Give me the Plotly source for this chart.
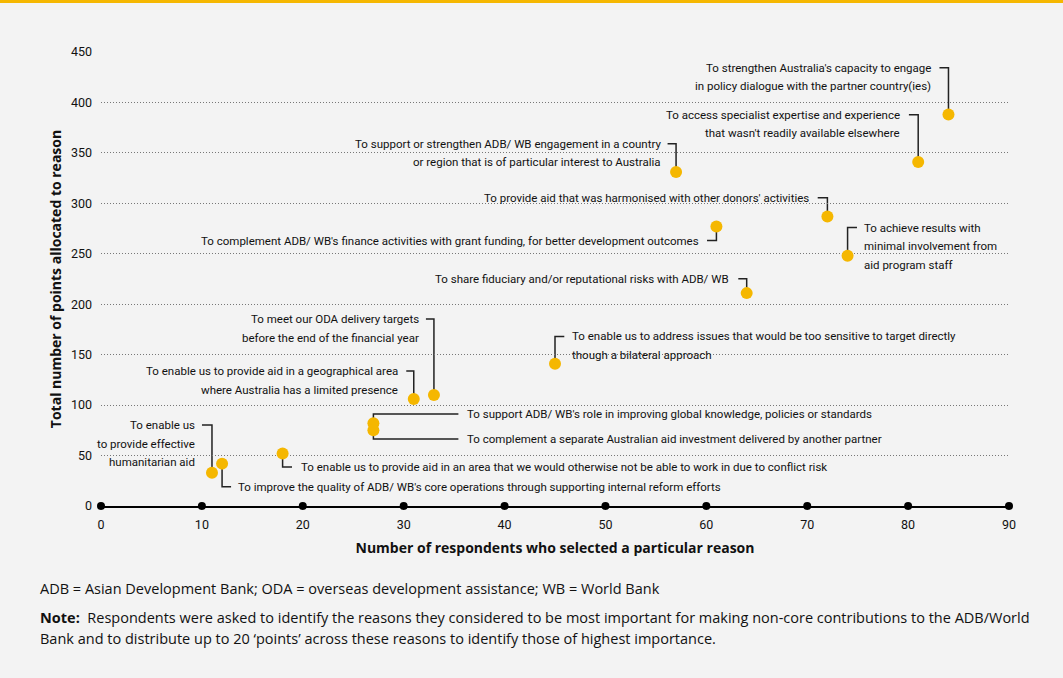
import plotly.graph_objects as go

# ---------------- data ----------------
reasons = [
    "To enable us<br>to provide effective<br>humanitarian aid",
    "To improve the quality of ADB/ WB's core operations through supporting internal reform efforts",
    "To enable us to provide aid in an area that we would otherwise not be able to work in due to conflict risk",
    "To support ADB/ WB's role in improving global knowledge, policies or standards",
    "To complement a separate Australian aid investment delivered by another partner",
    "To enable us to provide aid in a geographical area<br>where Australia has a limited presence",
    "To meet our ODA delivery targets<br>before the end of the financial year",
    "To enable us to address issues that would be too sensitive to target directly<br>though a bilateral approach",
    "To support or strengthen ADB/ WB engagement in a country<br>or region that is of particular interest to Australia",
    "To complement ADB/ WB's finance activities with grant funding, for better development outcomes",
    "To provide aid that was harmonised with other donors' activities",
    "To achieve results with<br>minimal involvement from<br>aid program staff",
    "To share fiduciary and/or reputational risks with ADB/ WB",
    "To access specialist expertise and experience<br>that wasn't readily available elsewhere",
    "To strengthen Australia's capacity to engage<br>in policy dialogue with the partner country(ies)",
]
respondents = [11, 12, 18, 27, 27, 31, 33, 45, 57, 61, 72, 74, 64, 81, 84]
points = [33, 42, 52, 82, 75, 106, 110, 141, 331, 277, 287, 248, 211, 341, 388]

x_ticks = [0, 10, 20, 30, 40, 50, 60, 70, 80, 90]
y_ticks = [0, 50, 100, 150, 200, 250, 300, 350, 400, 450]

x_title = "Number of respondents who selected a particular reason"
y_title = "Total number of points allocated to reason"
abbrev_note = "ADB = Asian Development Bank; ODA = overseas development assistance; WB = World Bank"
note_line1 = ("<b>Note:</b>  Respondents were asked to identify the reasons they considered to be most "
              "important for making non-core contributions to the ADB/World")
note_line2 = "Bank and to distribute up to 20 \u2018points\u2019 across these reasons to identify those of highest importance."

# ---------------- label layout (pixel offsets from each marker) ----------------
# connector: vertical from marker by conn_dy (px, + = up), then horizontal by conn_dx
conn_dy = [47.7, -23, -13.4, 9.3, -8.6, 28, 76, 27.3, 28.3, -14, 18.7, 28.3, 14.3, 47.3, 46.7]
conn_dx = [-10, 9, 9.4, 85, 85, -7.5, -8, 9.3, -8.5, -9.4, -9.7, 9.4, -8.4, -9.3, -9]
text_dx = [-16, 15, 17, 92.4, 92.4, -15, -14.3, 16, -14, -16.7, -17, 15.4, -17, -17.6, -16]
LINE_GAP = 18.5

GOLD = "#F5B700"
BG = "#F3F3F3"
COND = "Roboto, Liberation Sans, sans-serif"
MAIN = "Open Sans, Noto Sans, sans-serif"
LBL_FS = 11.5
TXT = "#111111"

W, H = 1063, 678
ML, MR, MT, MB = 101, 54, 52, 172
PW, PH = W - ML - MR, H - MT - MB

fig = go.Figure()

# axis dots along x axis
fig.add_trace(go.Scatter(
    x=x_ticks, y=[0] * len(x_ticks), mode="markers",
    marker=dict(color="black", size=8), cliponaxis=False, hoverinfo="skip", showlegend=False))

# data points
fig.add_trace(go.Scatter(
    x=respondents, y=points, mode="markers",
    marker=dict(color=GOLD, size=12), cliponaxis=False,
    text=[r.replace("<br>", " ") for r in reasons], hoverinfo="x+y+text", showlegend=False))

shapes = []
annotations = []
for i, txt in enumerate(reasons):
    xv, yv = respondents[i], points[i]
    dy, dx, tx = conn_dy[i], conn_dx[i], text_dx[i]
    shapes.append(dict(
        type="path", xref="x", yref="y", xsizemode="pixel", ysizemode="pixel",
        xanchor=xv, yanchor=yv, path=f"M 0,0 L 0,{dy} L {dx},{dy}",
        line=dict(color="#222222", width=1.5), layer="below"))
    for k, line in enumerate(txt.split("<br>")):
        annotations.append(dict(
            x=xv, y=yv, xref="x", yref="y", text=line, showarrow=False,
            xanchor="right" if tx < 0 else "left",
            yanchor="middle", xshift=tx, yshift=dy - k * LINE_GAP, borderpad=0,
            font=dict(family=COND, size=LBL_FS, color=TXT)))

# top orange rule
shapes.append(dict(type="rect", xref="paper", yref="paper", xsizemode="pixel", ysizemode="pixel",
                   xanchor=0, yanchor=1, x0=-ML, x1=PW + MR, y0=MT - 3, y1=MT,
                   fillcolor=GOLD, line=dict(width=0), layer="above"))

def px_to_paper_x(px):
    return (px - ML) / PW

def px_to_paper_y(py):
    return (H - MB - py) / PH

FOOT_FS = 14.5
for txt, ypx in [(abbrev_note, 588), (note_line1, 617), (note_line2, 638)]:
    annotations.append(dict(x=px_to_paper_x(38), y=px_to_paper_y(ypx), xref="paper", yref="paper",
                            xanchor="left", yanchor="middle", showarrow=False, text=txt,
                            font=dict(family=MAIN, size=FOOT_FS, color=TXT)))

fig.update_layout(
    width=W, height=H,
    margin=dict(l=ML, r=MR, t=MT, b=MB, autoexpand=False),
    paper_bgcolor=BG, plot_bgcolor=BG,
    shapes=shapes, annotations=annotations,
    showlegend=False,
    xaxis=dict(range=[0, 90], tickvals=x_ticks, showgrid=False, zeroline=False,
               showline=True, linecolor="black", linewidth=2, ticks="",
               ticklabelstandoff=6,
               tickfont=dict(family=COND, size=12.5, color=TXT),
               title=dict(text=f"<b>{x_title}</b>", standoff=12,
                          font=dict(family=MAIN, size=14, color=TXT))),
    yaxis=dict(range=[0, 450], tickvals=y_ticks, showgrid=True, gridcolor="#777777",
               griddash="1px,2px", gridwidth=1, zeroline=False, showline=False, ticks="",
               ticklabelstandoff=8,
               tickfont=dict(family=COND, size=12.5, color=TXT),
               title=dict(text=f"<b>{y_title}</b>", standoff=6,
                          font=dict(family=MAIN, size=14, color=TXT))),
)

fig.write_html("out.html", config={"displayModeBar": False},
               post_script="document.body.style.margin='0';")
